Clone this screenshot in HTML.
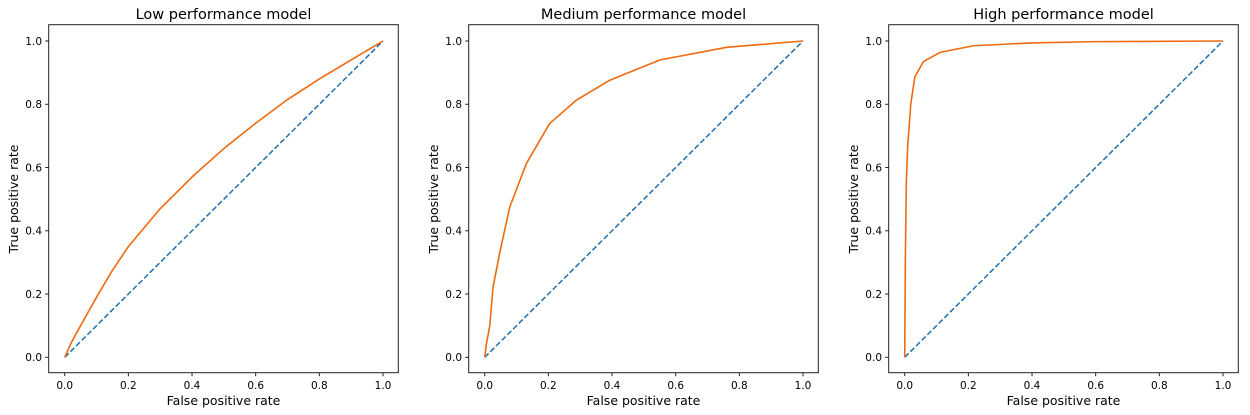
<!DOCTYPE html>
<html><head><meta charset="utf-8"><style>
body{margin:0;background:#fff;}
svg{display:block;font-family:"DejaVu Sans","Liberation Sans",sans-serif;}
</style></head><body>
<svg id="chart" width="1250" height="415" xmlns="http://www.w3.org/2000/svg"></svg>
<script>
const titles = ["Low performance model","Medium performance model","High performance model"];
const tickValues = [0,0.2,0.4,0.6,0.8,1.0];
const tickLabels = ["0.0","0.2","0.4","0.6","0.8","1.0"];
const lowFpr = [0,0.02,0.05,0.1,0.15,0.2,0.3,0.4,0.5,0.6,0.7,0.8,0.9,1];
const lowTpr = [0,0.045,0.1,0.19,0.275,0.35,0.47,0.57,0.66,0.74,0.815,0.88,0.94,1];
const medFpr = [0,0.005,0.016,0.026,0.047,0.079,0.131,0.204,0.288,0.393,0.55,0.76,1];
const medTpr = [0,0.04,0.1,0.22,0.33,0.476,0.613,0.739,0.813,0.876,0.94,0.98,1];
const highFpr = [0,0.002,0.005,0.0094,0.019,0.032,0.059,0.111,0.216,0.4,0.6,1];
const highTpr = [0,0.3,0.55,0.666,0.8,0.887,0.935,0.964,0.985,0.994,0.998,1];
const fprSeries = [lowFpr, medFpr, highFpr];
const tprSeries = [lowTpr, medTpr, highTpr];
const chanceLine = [0,1];

const svg = document.getElementById('chart');
const NS = "http://www.w3.org/2000/svg";
function mk(tag, attrs, parent){const e=document.createElementNS(NS,tag);for(const k in attrs)e.setAttribute(k,attrs[k]);parent.appendChild(e);return e;}

for(let p=0;p<3;p++){
  const off = 420*p;
  const X0 = off+64.7, X1 = off+383, Y0 = 357.3, Y1 = 41;
  const sx = v => X0 + v*(X1-X0);
  const sy = v => Y0 - v*(Y0-Y1);
  const g = mk('g',{},svg);
  
  
  const frame = mk('rect',{x:off+48.7,y:24.7,width:349.6,height:348,fill:'none',stroke:'#222','stroke-width':1},g);
  
  
  tickValues.forEach((v,i)=>{
    const tx = mk('line',{x1:sx(v),x2:sx(v),y1:372.7,y2:376.2,stroke:'#222'},g);
    
    
    const lx = mk('text',{x:sx(v),y:389,'font-size':10.5,'text-anchor':'middle',fill:'#000'},g);
    lx.textContent = tickLabels[i];
    
    
    const ty = mk('line',{x1:off+45.2,x2:off+48.7,y1:sy(v),y2:sy(v),stroke:'#222'},g);
    
    
    const ly = mk('text',{x:off+42,y:sy(v)+3.8,'font-size':10.5,'text-anchor':'end',fill:'#000'},g);
    ly.textContent = tickLabels[i];
    
    
  });
  const t = mk('text',{x:off+223.5,y:19,'font-size':14.5,'text-anchor':'middle',fill:'#000'},g);
  t.textContent = titles[p];
  
  
  const xl = mk('text',{x:off+223.5,y:405,'font-size':12.5,'text-anchor':'middle',fill:'#000'},g);
  xl.textContent = 'False positive rate';
  
  
  const yl = mk('text',{x:0,y:0,'font-size':12.5,'text-anchor':'middle',fill:'#000',transform:`translate(${off+18},199) rotate(-90)`},g);
  yl.textContent = 'True positive rate';
  
  
  const diag = mk('line',{x1:sx(chanceLine[0]),y1:sy(chanceLine[0]),x2:sx(chanceLine[1]),y2:sy(chanceLine[1]),stroke:'#1f6fae','stroke-width':1.5,'stroke-dasharray':'5.5,2.5'},g);
  
  
  const fx = fprSeries[p], ty2 = tprSeries[p];
  const pts = fx.map((v,i)=>sx(v).toFixed(2)+','+sy(ty2[i]).toFixed(2)).join(' ');
  const roc = mk('polyline',{points:pts,fill:'none',stroke:'#f06a0f','stroke-width':1.6,'stroke-linejoin':'round'},g);
  
  
}
</script>
</body></html>
